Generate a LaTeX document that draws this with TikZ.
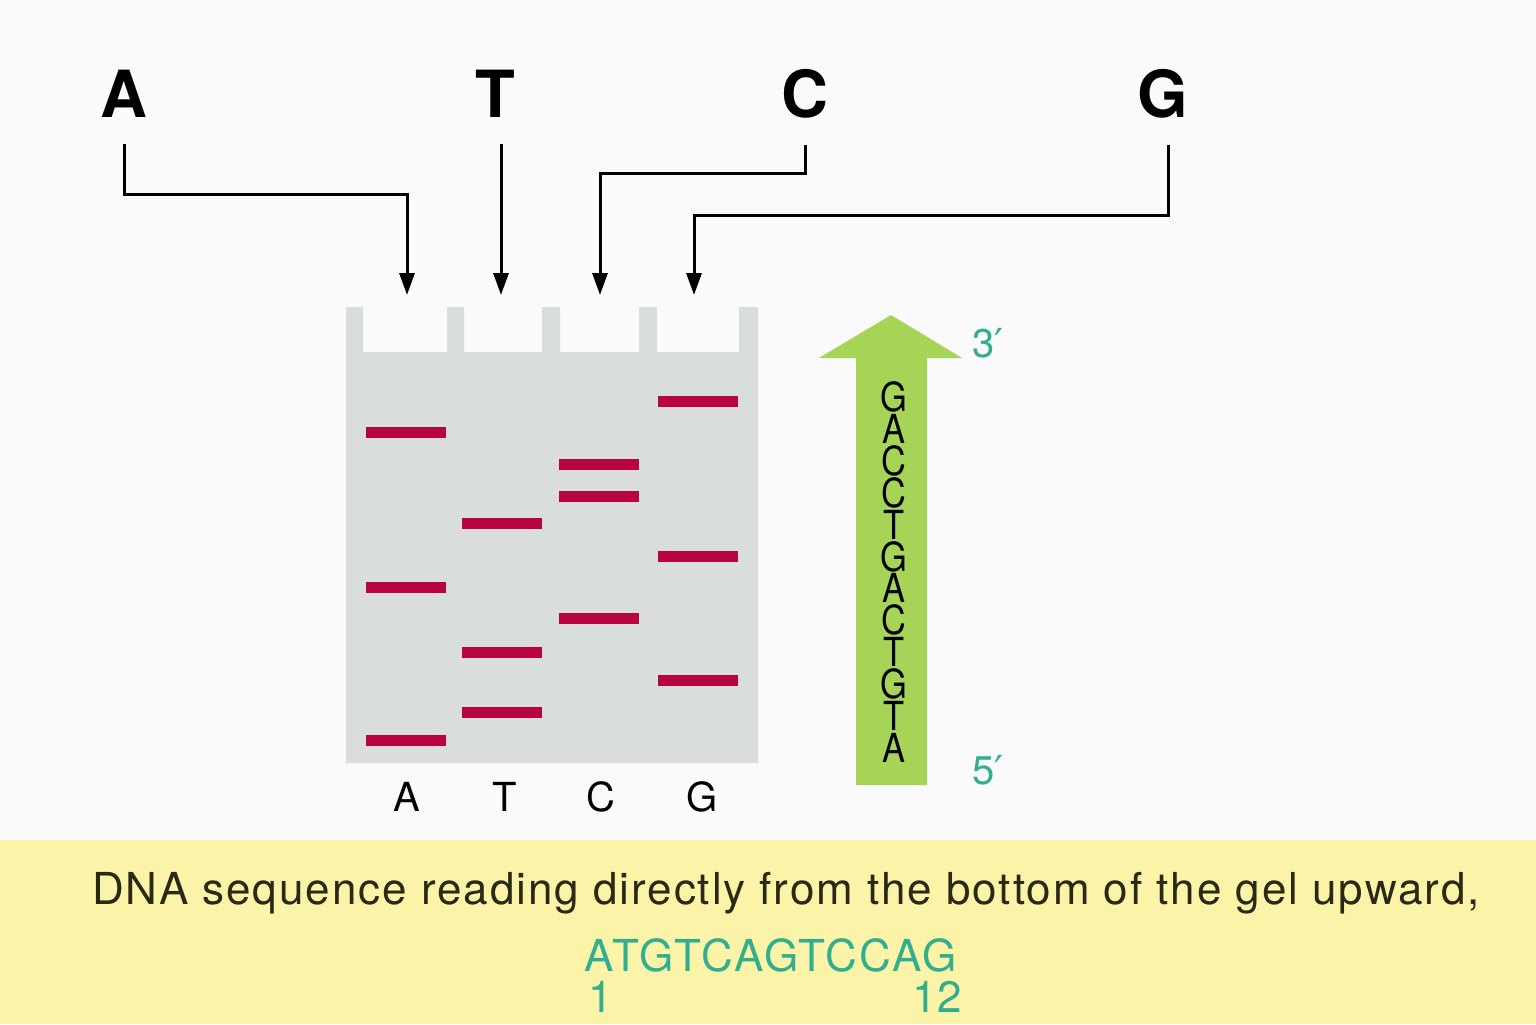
\documentclass[tikz,border=0pt]{standalone}
\usepackage{fontspec}
\setmainfont{TeX Gyre Heros}
\newfontfamily\narrowfont[FakeStretch=0.86]{TeX Gyre Heros}
\newfontfamily\widefont[LetterSpace=4.4]{TeX Gyre Heros}
\newfontfamily\seqfont[LetterSpace=5.2]{TeX Gyre Heros}
\newfontfamily\primefont{DejaVu Sans}
\usepackage{xcolor}
\definecolor{paper}{HTML}{FAFAFB}
\definecolor{band}{HTML}{FBF3A8}
\definecolor{gel}{HTML}{D9DDDB}
\definecolor{dye}{HTML}{B8053F}
\definecolor{leaf}{HTML}{A6D456}
\definecolor{teal}{HTML}{30AE8E}
\definecolor{ink}{HTML}{2A2A14}
\usepackage{tikz}
\usetikzlibrary{arrows.meta}
\tikzset{
  >={Triangle[length=11pt,width=7.5pt]},
  base/.style={font=\bfseries\fontsize{32.5pt}{36pt}\selectfont,inner sep=0pt},
  lane/.style={font=\fontsize{20pt}{24pt}\selectfont,inner sep=0pt},
  endlab/.style={lane,text=teal},
  seq/.style={font=\narrowfont\fontsize{20pt}{22pt}\selectfont,inner sep=0pt},
  feed/.style={->,line width=1.5pt,shorten <=13pt},
  note/.style={font=\fontsize{22pt}{26pt}\selectfont,inner sep=0pt},
  capt/.style={font=\widefont\fontsize{22pt}{26pt}\selectfont,inner sep=0pt,text=ink},
  read/.style={font=\seqfont\fontsize{22pt}{26pt}\selectfont,inner sep=0pt,text=teal},
}
\newcommand{\prm}{{\primefont\char"2032}}

\begin{document}
\begin{tikzpicture}[x=0.5pt,y=-0.5pt]
\useasboundingbox (0,0) rectangle (1536,1024);
\fill[paper] (0,0) rectangle (1536,1024);
\fill[band] (0,840) rectangle (1536,1024);
% gel with four wells
\fill[gel] (346,307) -- (363,307) -- (363,352) -- (447,352) -- (447,307)
  -- (464,307) -- (464,352) -- (542,352) -- (542,307) -- (560,307)
  -- (560,352) -- (639,352) -- (639,307) -- (657,307) -- (657,352)
  -- (739,352) -- (739,307) -- (758,307) -- (758,763) -- (346,763) -- cycle;
\foreach \x/\y in {406/432,406/587,406/740,502/523,502/652,502/712,
  599/464,599/496,599/618,698/401,698/556,698/680}
  \fill[dye] (\x-40,\y-5.5) rectangle (\x+40,\y+5.5);
% bases on top
\node[base] (lA) at (124,94) {A};
\node[base] (lT) at (495,94) {T};
\node[base] (lC) at (805,94) {C};
\node[base] (lG) at (1163,94) {G};
\coordinate (wA) at (407,295);
\coordinate (wT) at (501,295);
\coordinate (wC) at (600,295);
\coordinate (wG) at (694,295);
\coordinate (kA) at (407,194);
\coordinate (kC) at (805,173);
\coordinate (kG) at (1168,215);
\draw[feed] (lA.south) |- (kA) -- (wA);
\draw[feed] (lT.south -| wT) -- (wT);
\draw[feed] (lC.south) -- (kC) -| (wC);
\draw[feed] (lG.south -| kG) -- (kG) -| (wG);
% lane names
\foreach \n/\x in {A/407,T/505,C/601,G/702}
  \node[lane] (n\n) at (\x,797) {\n};
% reading arrow
\fill[leaf] (856,785) -- (856,358) -- (819,358) -- (891,315) -- (962,358)
  -- (927,358) -- (927,785) -- cycle;
\foreach \b [count=\i from 0] in {G,A,C,C,T,G,A,C,T,G,T,A}
  \node[seq] (s\i) at (894,397+31.9*\i) {\b};
\node[endlab] (p3) at (988,343) {3\prm};
\node[endlab] (p5) at (988,770) {5\prm};
% caption
\node[capt] (cap) at (786,893)
  {DNA sequence reading directly from the bottom of the gel upward,};
\node[read] (rd) at (771,955) {ATGTCAGTCCAG};
\node[note,text=teal,anchor=west] (n1) at (588,997) {1};
\node[note,text=teal,anchor=east] (n12) at (962,997) {12};
\end{tikzpicture}
\end{document}
